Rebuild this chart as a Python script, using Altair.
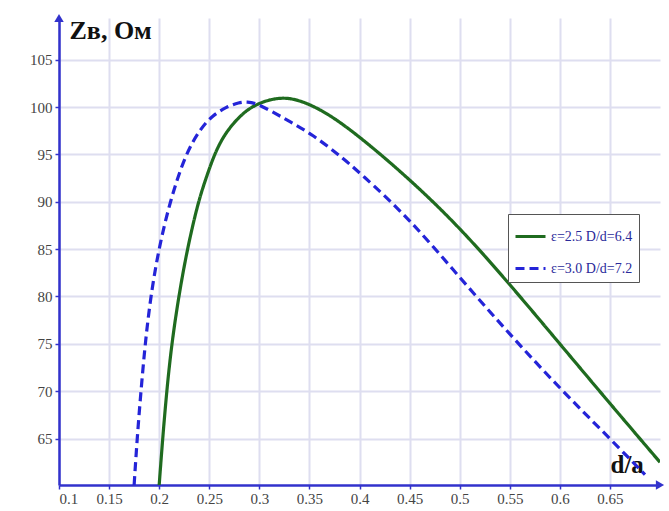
import altair as alt
import pandas as pd

# ---- data ----
x_green = [0.200, 0.2035, 0.2075, 0.2125, 0.2195, 0.228, 0.239, 0.2465, 0.255, 0.2655,
           0.280, 0.2917, 0.3067, 0.322, 0.335, 0.350, 0.370, 0.400, 0.450, 0.500,
           0.550, 0.600, 0.650, 0.700]
y_green = [60.1, 65.0, 70.0, 75.0, 80.0, 85.0, 90.0, 92.4, 95.0, 97.2,
           99.0, 100.0, 100.7, 101.0, 100.85, 100.3, 99.2, 96.9, 92.4, 87.3,
           81.3, 75.0, 68.7, 62.5]

x_blue = [0.175, 0.178, 0.1818, 0.186, 0.1915, 0.1995, 0.2107, 0.226, 0.2417, 0.2533,
          0.2667, 0.280, 0.288, 0.297, 0.313, 0.330, 0.353, 0.380, 0.400, 0.450,
          0.500, 0.550, 0.600, 0.650, 0.685]
y_blue = [60.1, 65.0, 70.0, 75.0, 80.0, 85.0, 90.0, 95.0, 97.8, 99.1,
          100.0, 100.5, 100.55, 100.4, 99.5, 98.5, 97.1, 94.9, 93.1, 88.2,
          82.0, 76.0, 70.3, 65.0, 61.2]

series_names = ["ε=2.5 D/d=6.4", "ε=3.0 D/d=7.2"]
series_colors = ["#1f6b1f", "#2424d8"]

x_ticks = [0.1, 0.15, 0.2, 0.25, 0.3, 0.35, 0.4, 0.45, 0.5, 0.55, 0.6, 0.65]
y_ticks = [65, 70, 75, 80, 85, 90, 95, 100, 105]

X_MIN, X_MAX = 0.1, 0.7
Y_MIN, Y_MAX = 60.1, 109.4

rows = []
for xv, yv in zip(x_green, y_green):
    rows.append({"x": xv, "y": yv, "s": series_names[0]})
for xv, yv in zip(x_blue, y_blue):
    rows.append({"x": xv, "y": yv, "s": series_names[1]})
df = pd.DataFrame(rows)

AXIS_BLUE = "#3232cc"
SERIF = "Liberation Serif"

xscale = alt.Scale(domain=[X_MIN, X_MAX], nice=False, zero=False)
yscale = alt.Scale(domain=[Y_MIN, Y_MAX], nice=False, zero=False)

x_enc = alt.X("x:Q", scale=xscale,
              axis=alt.Axis(values=x_ticks, title="d/a", format="~g",
                            titleX=551, titleY=-13, titleAlign="left", titleBaseline="alphabetic",
                            titleFont=SERIF, titleFontSize=25, titleFontWeight="bold",
                            titleColor="#111111",
                            labelFont=SERIF, labelFontSize=15, labelColor="#444444",
                            labelPadding=2,
                            domainColor=AXIS_BLUE, domainWidth=2.5,
                            tickColor=AXIS_BLUE, tickSize=4, tickWidth=1.5,
                            gridColor="#dedef0", gridWidth=2))
y_enc = alt.Y("y:Q", scale=yscale,
              axis=alt.Axis(values=y_ticks, title="Zв, Ом",
                            titleAngle=0, titleX=10, titleY=20, titleAlign="left",
                            titleBaseline="alphabetic",
                            titleFont=SERIF, titleFontSize=26, titleFontWeight="bold",
                            titleColor="#111111",
                            labelFont=SERIF, labelFontSize=15, labelColor="#444444",
                            labelPadding=3,
                            domainColor=AXIS_BLUE, domainWidth=2.5,
                            tickColor=AXIS_BLUE, tickSize=4, tickWidth=1.5,
                            gridColor="#dedef0", gridWidth=2))

lines = alt.Chart(df).mark_line(strokeWidth=3.2, clip=True, interpolate="basis").encode(
    x=x_enc,
    y=y_enc,
    color=alt.Color("s:N",
                    scale=alt.Scale(domain=series_names, range=series_colors),
                    legend=alt.Legend(title=None, orient="none", legendX=449, legendY=196,
                                      fillColor="white", strokeColor="#555555",
                                      padding=6, rowPadding=8,
                                      symbolType="stroke", symbolSize=900,
                                      symbolStrokeWidth=3,
                                      labelFont=SERIF, labelFontSize=14,
                                      labelColor="#2a2a9a")),
    strokeDash=alt.StrokeDash("s:N",
                              scale=alt.Scale(domain=series_names, range=[[1, 0], [9, 5]]),
                              legend=None),
)

arrows_df = pd.DataFrame({
    "x": [X_MIN, X_MAX],
    "y": [Y_MAX, Y_MIN],
    "shape": ["triangle-up", "triangle-right"],
})
arrows = alt.Chart(arrows_df).mark_point(filled=True, size=90, opacity=1,
                                         color=AXIS_BLUE, clip=False).encode(
    x=alt.X("x:Q", scale=xscale),
    y=alt.Y("y:Q", scale=yscale),
    shape=alt.Shape("shape:N", scale=None, legend=None),
)

chart = alt.layer(lines, arrows).properties(
    width=601, height=467,
    autosize=alt.AutoSizeParams(type="none"),
    padding={"left": 59, "top": 18, "right": 9, "bottom": 26},
    background="white",
).configure_view(stroke=None)

chart.save("out.html", embed_options={"renderer": "svg", "actions": False})
